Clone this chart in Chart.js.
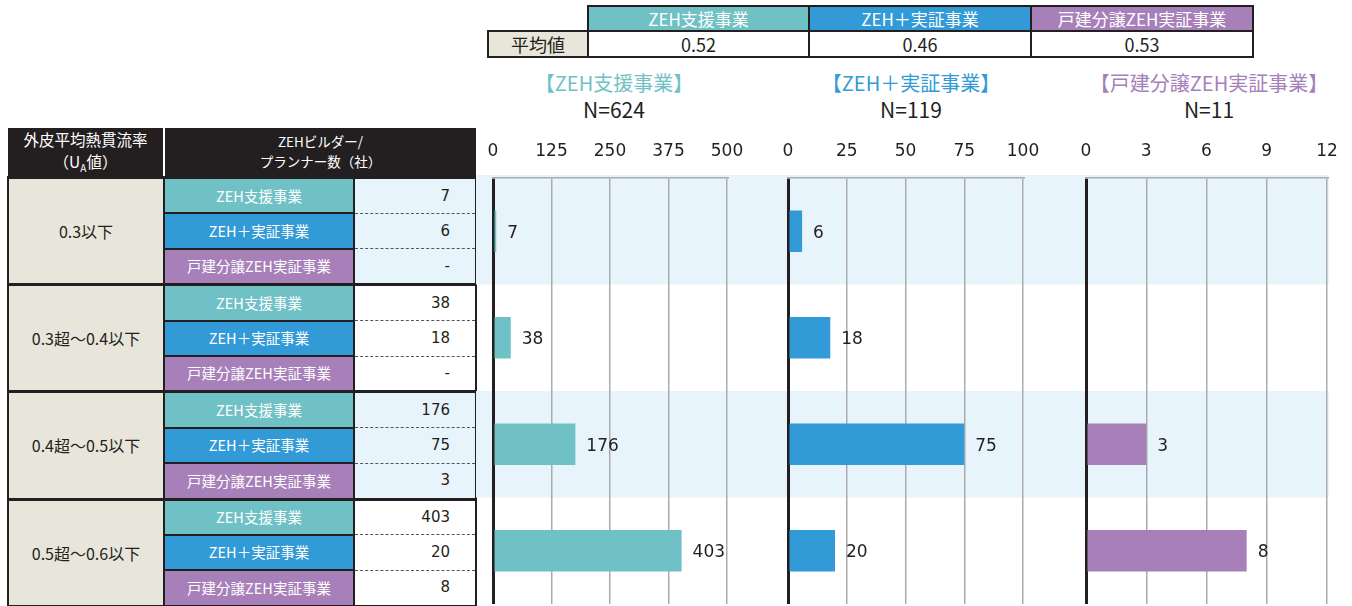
<!DOCTYPE html>
<html lang="ja">
<head>
<meta charset="utf-8">
<script src="https://cdn.jsdelivr.net/npm/chart.js@4.4.1/dist/chart.umd.min.js"></script>
<style>
  body { margin: 0; width: 1352px; height: 606px; position: relative; overflow: hidden; background: #fff;
         font-family: "Noto Sans CJK JP", sans-serif; color: #231f20; }
  table { border-collapse: collapse; table-layout: fixed; position: absolute; }
  td, th { padding: 0; text-align: center; font-weight: normal; }

  #avgTable { left: 487px; top: 5px; font-size: 17px; }
  #avgTable td { border: 2px solid #231f20; line-height: 1; }
  #avgTable tr.head td { height: 23px; color: #fff; }
  #avgTable tr.head td.blank { border: none; }
  #avgTable tr.vals td { height: 24px; font-size: 18px; }
  #avgTable td.label { background: #e8e5da; }

  #leftTable { left: 7px; top: 128px; }
  #leftTable th { background: #231f20; color: #fff; height: 46px; line-height: 1.45; }
  #leftTable th.h1 { font-size: 15.5px; border-right: 2px solid #fff; }
  #leftTable th.h2 { font-size: 13.5px; }
  #leftTable sub { font-size: 10px; }
  #leftTable td { border: 2px solid #231f20; height: 33.4px; line-height: 1; }
  #leftTable td.cat { background: #e8e5da; font-size: 16px; }
  #leftTable td.prog { color: #fff; font-size: 14.5px; }
  #leftTable td.num { text-align: right; padding-right: 25px; font-family: "DejaVu Sans", sans-serif; font-size: 15px; }
  #leftTable td.num.band { background: #e8f4fb; }
  #leftTable td.num.dtop { border-top: 1.5px dashed #555; }
  #leftTable td.num.dbot { border-bottom: 1.5px dashed #555; }
  #leftTable tr.gtop td { border-top: 3px solid #231f20; }

  .title { position: absolute; width: 320px; text-align: center; line-height: 1; }
  .title .name { font-size: 20px; }
  .title .n { font-size: 21px; margin-top: 6px; color: #231f20; }

  .chartBox { position: absolute; top: 130px; height: 476px; }
</style>
</head>
<body>
<table id="avgTable"></table>
<table id="leftTable"></table>
<div id="titles"></div>
<div class="chartBox" style="left:476px;width:304px"><canvas id="chart1"></canvas></div>
<div class="chartBox" style="left:780px;width:298px"><canvas id="chart2"></canvas></div>
<div class="chartBox" style="left:1078px;width:274px"><canvas id="chart3"></canvas></div>
<script>
// categories (U_A value ranges) and programmes
const categories = ['0.3以下', '0.3超～0.4以下', '0.4超～0.5以下', '0.5超～0.6以下'];
const programs = ['ZEH支援事業', 'ZEH＋実証事業', '戸建分譲ZEH実証事業'];
const programColors = ['#6fc1c6', '#329ad6', '#a780ba'];

// builder / planner counts per category
const shienCounts = [7, 38, 176, 403];
const plusCounts = [6, 18, 75, 20];
const bunjoCounts = [null, null, 3, 8];

// summary values
const averages = ['0.52', '0.46', '0.53'];
const totals = [624, 119, 11];

// x axis settings for each chart
const axisMax = [500, 100, 12];
const axisStep = [125, 25, 3];

const seriesCounts = [shienCounts, plusCounts, bunjoCounts];

// top table with averages
let avg = '<colgroup><col style="width:100px"><col style="width:221px"><col style="width:222px"><col style="width:222px"></colgroup>';
avg += '<tr class="head"><td class="blank"></td>';
programs.forEach((p, j) => { avg += `<td style="background:${programColors[j]}">${p}</td>`; });
avg += '</tr><tr class="vals"><td class="label">平均値</td>';
averages.forEach(a => { avg += `<td>${a}</td>`; });
avg += '</tr>';
document.getElementById('avgTable').innerHTML = avg;

// left table
let html = '<colgroup><col style="width:156px"><col style="width:190px"><col style="width:122px"></colgroup>';
html += '<tr><th class="h1">外皮平均熱貫流率<br>（U<sub>A</sub>値）</th><th colspan="2" class="h2">ZEHビルダー/<br>プランナー数（社）</th></tr>';
categories.forEach((cat, i) => {
    programs.forEach((p, j) => {
        html += '<tr class="' + (j === 0 ? 'gtop' : '') + '">';
        if (j === 0) html += `<td rowspan="3" class="cat">${cat}</td>`;
        html += `<td class="prog" style="background:${programColors[j]}">${p}</td>`;
        const v = seriesCounts[j][i];
        let cls = 'num';
        if (i % 2 === 0) cls += ' band';
        if (j > 0) cls += ' dtop';
        if (j < 2) cls += ' dbot';
        html += `<td class="${cls}">${v == null ? '-' : v}</td></tr>`;
    });
});
document.getElementById('leftTable').innerHTML = html;

// chart titles
const titleCenters = [614, 911, 1209];
let titles = '';
programs.forEach((p, j) => {
    titles += `<div class="title" style="left:${titleCenters[j] - 160}px;top:73px">` +
        `<div class="name" style="color:${programColors[j]}">【${p}】</div>` +
        `<div class="n">N=${totals[j]}</div></div>`;
});
document.getElementById('titles').innerHTML = titles;

// light blue bands behind every other category
const bandPlugin = {
    id: 'bands',
    beforeDraw(chart, args, opts) {
        const { ctx, chartArea, scales: { y } } = chart;
        const right = opts.toArea ? chartArea.right + 2 : chart.width;
        const half = (y.getPixelForValue(1) - y.getPixelForValue(0)) / 2;
        ctx.save();
        ctx.fillStyle = '#e8f4fb';
        categories.forEach((c, i) => {
            if (i % 2) return;
            const mid = y.getPixelForValue(i);
            let top = mid - half;
            const bottom = mid + half;
            if (i === 0) top -= 3;
            ctx.fillRect(0, top, right, bottom - top);
        });
        ctx.restore();
    }
};

// value labels to the right of bars
const valueLabels = {
    id: 'valueLabels',
    afterDatasetsDraw(chart) {
        const { ctx } = chart;
        const meta = chart.getDatasetMeta(0);
        const data = chart.data.datasets[0].data;
        ctx.save();
        ctx.font = '17px "DejaVu Sans"';
        ctx.fillStyle = '#231f20';
        ctx.textBaseline = 'middle';
        meta.data.forEach((bar, i) => {
            if (data[i] == null) return;
            ctx.fillText(String(data[i]), bar.x + 11, bar.y + 2);
        });
        ctx.restore();
    }
};

const paddings = [{ left: 17, right: 53 }, { left: 8, right: 55 }, { left: 8, right: 25 }];

seriesCounts.forEach((counts, j) => {
    new Chart(document.getElementById('chart' + (j + 1)), {
        type: 'bar',
        data: {
            labels: categories,
            datasets: [{
                label: programs[j],
                data: counts,
                backgroundColor: programColors[j],
                barPercentage: 0.39,
                categoryPercentage: 1
            }]
        },
        options: {
            indexAxis: 'y',
            responsive: true,
            maintainAspectRatio: false,
            animation: false,
            layout: { padding: { top: 9.6, bottom: 2, left: paddings[j].left, right: paddings[j].right } },
            plugins: {
                legend: { display: false },
                tooltip: { enabled: false },
                bands: { toArea: j === 2 }
            },
            scales: {
                x: {
                    position: 'top',
                    min: 0,
                    max: axisMax[j],
                    ticks: {
                        stepSize: axisStep[j],
                        padding: 2,
                        color: '#231f20',
                        font: { family: 'DejaVu Sans', size: 17 }
                    },
                    grid: {
                        drawTicks: true,
                        tickLength: 14,
                        tickColor: 'rgba(0,0,0,0)',
                        color: c => (c.tick && c.tick.value === 0) ? '#231f20' : '#ababab',
                        lineWidth: c => (c.tick && c.tick.value === 0) ? 3 : 1.5
                    },
                    border: { display: true, color: '#ababab', width: 1.5 }
                },
                y: {
                    type: 'category',
                    display: false
                }
            }
        },
        plugins: [bandPlugin, valueLabels]
    });
});
</script>
</body>
</html>
